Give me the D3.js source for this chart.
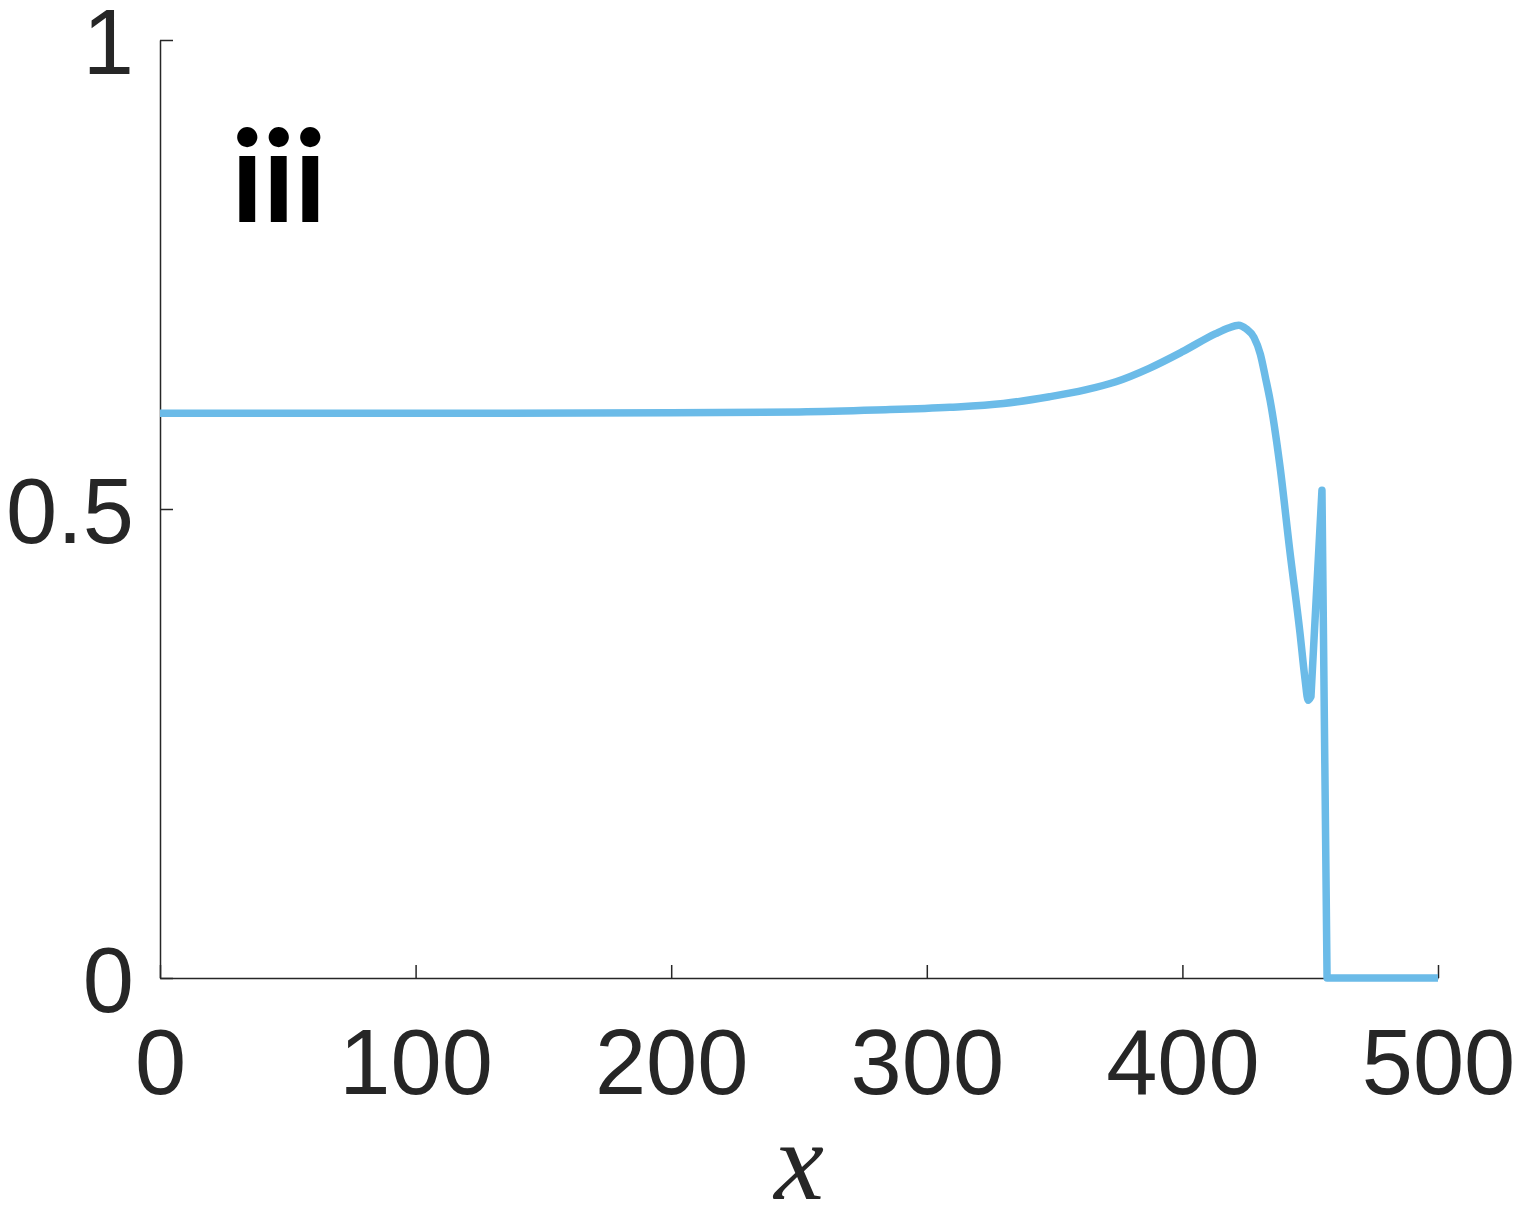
<!DOCTYPE html>
<html>
<head>
<meta charset="utf-8">
<script src="https://cdn.jsdelivr.net/npm/d3@7"></script>
<style>
  body { margin: 0; background: #fff; }
  svg { display: block; }
</style>
</head>
<body>
<svg id="chart" width="1522" height="1222"></svg>
<script>
// valeurs : partie lisse puis partie anguleuse (pic + chute)
var xsSmooth = [0, 100, 200, 250, 280, 309, 330, 348, 362, 374, 387, 400, 413, 418, 422, 425, 428, 430.5, 432.5, 434.3, 438.2, 442, 446, 448, 449.2, 450.3];
var ysSmooth = [0.602, 0.602, 0.6025, 0.6035, 0.6055, 0.6084, 0.6125, 0.6197, 0.627, 0.6357, 0.650, 0.6677, 0.687, 0.693, 0.696, 0.692, 0.683, 0.665, 0.640, 0.616, 0.545, 0.456, 0.368, 0.318, 0.296, 0.300];
var xsSharp = [450.3, 454.6, 456.6, 500];
var ysSharp = [0.300, 0.520, 0.0, 0.0];
var xTicks = [0, 100, 200, 300, 400, 500];
var yTicks = [0, 0.5, 1];
var panelLabel = "iii";

var smoothData = xsSmooth.map(function(d, i){ return {x: d, y: ysSmooth[i]}; });
var sharpData = xsSharp.map(function(d, i){ return {x: d, y: ysSharp[i]}; });

var svg = d3.select("#chart");
var margin = {left: 160, right: 84, top: 40, bottom: 244};
var width = 1522 - margin.right;
var height = 1222 - margin.bottom;

var xScale = d3.scaleLinear().domain([0, 500]).range([margin.left, width]);
var yScale = d3.scaleLinear().domain([0, 1]).range([height, margin.top]);

var axisColor = "#262626";
var tickFont = "'Liberation Sans', Arial, sans-serif";

// axe des abscisses (graduations vers l'intérieur)
var gx = svg.append("g")
	.attr("transform", `translate(0, ${height})`)
	.call(d3.axisBottom(xScale).tickValues(xTicks).tickSize(-13).tickSizeOuter(0));

// axe des ordonnées
var gy = svg.append("g")
	.attr("transform", `translate(${margin.left}, 0)`)
	.call(d3.axisLeft(yScale).tickValues(yTicks).tickSize(-13).tickPadding(26).tickSizeOuter(0)
		.tickFormat(function(d){ return d; }));

[gx, gy].forEach(function(g){
	g.select(".domain").attr("stroke", axisColor).attr("stroke-width", 1.5);
	g.selectAll(".tick line").attr("stroke", axisColor).attr("stroke-width", 1.5);
	g.selectAll(".tick text")
		.attr("fill", axisColor)
		.style("font-family", tickFont)
		.style("font-size", "92px");
});
gx.selectAll(".tick text").attr("dy", null).attr("y", 116);
gy.selectAll(".tick text").attr("dy", "0.36em");

// courbe : morceau lisse + morceau linéaire
var smoothLine = d3.line()
	.x(function(d){ return xScale(d.x); })
	.y(function(d){ return yScale(d.y); })
	.curve(d3.curveMonotoneX);
var sharpLine = d3.line()
	.x(function(d){ return xScale(d.x); })
	.y(function(d){ return yScale(d.y); });

svg.append("path")
	.attr("d", smoothLine(smoothData) + sharpLine(sharpData).replace(/^M/, "L"))
	.attr("fill", "none")
	.attr("stroke", "#6bbbe8")
	.attr("stroke-width", 7.5)
	.attr("stroke-linejoin", "round");

// étiquette du panneau
svg.append("text")
	.attr("x", 231)
	.attr("y", 222)
	.style("font-family", "Lato, 'Liberation Sans', sans-serif")
	.style("font-weight", "bold")
	.style("font-size", "128px")
	.style("letter-spacing", "-1px")
	.attr("fill", "#000")
	.text(panelLabel);

// label de l'axe x
svg.append("text")
	.attr("x", xScale(250))
	.attr("y", 1199)
	.attr("text-anchor", "middle")
	.style("font-family", "'Liberation Serif', 'Times New Roman', serif")
	.style("font-style", "italic")
	.style("font-size", "112px")
	.attr("fill", axisColor)
	.text("x");
</script>
</body>
</html>
